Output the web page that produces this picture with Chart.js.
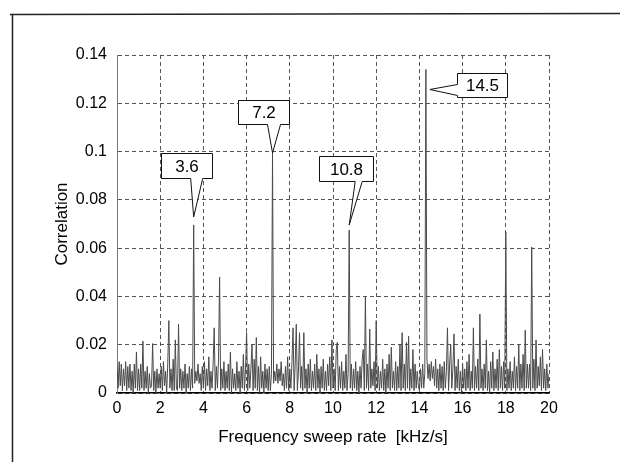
<!DOCTYPE html>
<html>
<head>
<meta charset="utf-8">
<script src="https://cdn.jsdelivr.net/npm/chart.js@4/dist/chart.umd.min.js"></script>
<style>
  html, body { margin: 0; padding: 0; background: #fff; }
  #wrap { width: 620px; height: 462px; position: relative; }
</style>
</head>
<body>
<div id="wrap"><canvas id="c" width="620" height="462"></canvas></div>
<script>
// Frequency sweep rate axis (kHz/s): samples start at 0, one every 0.05
const sweepStart = 0;
const sweepStep = 0.05;

// Correlation values, one per sample (0 .. 20 kHz/s)
const correlation = [
  // 0.00 - 0.95
  0.011,0.002,0.013,0.003,0.012,0.001,0.010,0.003,0.013,0.001,0.011,0.002,0.012,0.001,0.009,0.000,0.012,0.002,0.017,0.001,
  // 1.00 - 1.95
  0.010,0.001,0.012,0.002,0.0215,0.001,0.009,0.002,0.011,0.000,0.008,0.002,0.003,0.0205,0.001,0.009,0.000,0.010,0.002,0.008,
  // 2.00 - 2.95
  0.002,0.011,0.001,0.013,0.003,0.009,0.000,0.012,0.030,0.002,0.010,0.001,0.014,0.001,0.022,0.002,0.001,0.0285,0.002,0.010,
  // 3.00 - 3.95
  0.001,0.009,0.002,0.012,0.000,0.008,0.002,0.011,0.001,0.010,0.002,0.0696,0.004,0.009,0.005,0.012,0.004,0.008,0.001,0.011,
  // 4.00 - 4.95
  0.002,0.013,0.001,0.010,0.003,0.015,0.001,0.009,0.002,0.012,0.027,0.001,0.011,0.002,0.014,0.048,0.001,0.010,0.002,0.013,
  // 5.00 - 5.95
  0.001,0.009,0.002,0.012,0.001,0.017,0.000,0.010,0.002,0.008,0.001,0.013,0.002,0.009,0.000,0.011,0.002,0.016,0.001,0.010,
  // 6.00 - 6.95
  0.025,0.001,0.012,0.002,0.010,0.020,0.001,0.014,0.002,0.023,0.001,0.011,0.000,0.015,0.002,0.009,0.000,0.012,0.002,0.010,
  // 7.00 - 7.95
  0.001,0.011,0.001,0.008,0.0994,0.004,0.009,0.005,0.012,0.004,0.010,0.005,0.013,0.003,0.008,0.001,0.011,0.002,0.015,0.001,
  // 8.00 - 8.95
  0.010,0.002,0.013,0.027,0.001,0.012,0.0285,0.001,0.009,0.025,0.002,0.011,0.001,0.025,0.002,0.010,0.000,0.012,0.002,0.014,
  // 9.00 - 9.95
  0.001,0.009,0.002,0.012,0.001,0.016,0.002,0.010,0.000,0.011,0.002,0.014,0.001,0.009,0.001,0.012,0.003,0.015,0.001,0.022,
  // 10.00 - 10.95
  0.002,0.010,0.001,0.018,0.021,0.001,0.011,0.002,0.013,0.001,0.009,0.002,0.016,0.001,0.008,0.0675,0.002,0.012,0.001,0.010,
  // 11.00 - 11.95
  0.002,0.013,0.001,0.009,0.000,0.011,0.002,0.014,0.018,0.001,0.040,0.002,0.012,0.001,0.0265,0.002,0.010,0.003,0.013,0.001,
  // 12.00 - 12.95
  0.030,0.002,0.011,0.001,0.009,0.002,0.014,0.001,0.010,0.000,0.012,0.002,0.016,0.001,0.019,0.002,0.009,0.001,0.013,0.001,
  // 13.00 - 13.95
  0.011,0.002,0.020,0.001,0.025,0.002,0.012,0.001,0.021,0.002,0.0235,0.001,0.010,0.002,0.018,0.001,0.012,0.002,0.009,0.003,
  // 14.00 - 14.95
  0.001,0.010,0.002,0.012,0.002,0.008,0.134,0.014,0.006,0.012,0.005,0.013,0.006,0.011,0.003,0.014,0.002,0.010,0.001,0.012,
  // 15.00 - 15.95
  0.002,0.011,0.001,0.013,0.002,0.009,0.027,0.001,0.012,0.020,0.002,0.010,0.0245,0.001,0.011,0.002,0.014,0.001,0.009,0.000,
  // 16.00 - 16.95
  0.012,0.002,0.010,0.001,0.013,0.002,0.016,0.001,0.009,0.002,0.027,0.001,0.011,0.002,0.014,0.001,0.0327,0.002,0.010,0.001,
  // 17.00 - 17.95
  0.012,0.002,0.022,0.001,0.009,0.000,0.013,0.002,0.017,0.001,0.010,0.002,0.014,0.001,0.018,0.002,0.011,0.001,0.013,0.002,
  // 18.00 - 18.95
  0.0667,0.001,0.010,0.002,0.013,0.001,0.009,0.002,0.015,0.001,0.011,0.002,0.020,0.001,0.012,0.002,0.016,0.001,0.026,0.002,
  // 19.00 - 19.95
  0.012,0.002,0.012,0.001,0.0605,0.002,0.014,0.001,0.022,0.002,0.011,0.003,0.015,0.001,0.018,0.002,0.010,0.001,0.012,0.002,
  // 20.00
  0.008
];

// Labelled peaks: position on the sweep-rate axis, peak height, callout text
const peakRates  = [3.55, 7.2, 10.75, 14.3];
const peakValues = [0.0696, 0.0994, 0.0675, 0.134];
const peakLabels = ['3.6', '7.2', '10.8', '14.5'];

// Axis ticks
const xTickStep = 2, xMin = 0, xMax = 20;
const yTickStep = 0.02, yMin = 0, yMax = 0.14;

// ---- presentation (pixel offsets of callouts relative to the peak point) ----
const calloutLayout = [
  { side: 'bottom', tipDx: 0, tipDy: -8, boxDx: -33, boxDy: -72, w: 51, h: 25, b1: -3, b2: 9 },
  { side: 'bottom', tipDx: 0, tipDy: 0,  boxDx: -35, boxDy: -53, w: 51, h: 24, b1: -5, b2: 8 },
  { side: 'bottom', tipDx: 0, tipDy: -5, boxDx: -30, boxDy: -74, w: 54, h: 25, b1: 6,  b2: 13 },
  { side: 'left',   tipDx: 4, tipDy: 20, boxDx: 31,  boxDy: 4,   w: 50, h: 24, b1: 15, b2: 26 }
];

const points = correlation.map((v, i) => ({ x: sweepStart + i * sweepStep, y: v }));

const FONT = '"Liberation Sans", Arial, Helvetica, sans-serif';

const decorPlugin = {
  id: 'decor',
  afterDatasetsDraw(chart) {
    const ctx = chart.ctx;
    const xs = chart.scales.x, ys = chart.scales.y;
    ctx.save();
    peakRates.forEach((r, k) => {
      const L = calloutLayout[k];
      const px = xs.getPixelForValue(r), py = ys.getPixelForValue(peakValues[k]);
      const tx = px + L.tipDx, ty = py + L.tipDy;
      const bl = Math.round(px + L.boxDx) + 0.5, bt = Math.round(py + L.boxDy) + 0.5;
      const br = bl + L.w, bb = bt + L.h;
      ctx.beginPath();
      if (L.side === 'bottom') {
        ctx.moveTo(bl, bt); ctx.lineTo(br, bt); ctx.lineTo(br, bb);
        ctx.lineTo(px + L.b2, bb); ctx.lineTo(tx, ty); ctx.lineTo(px + L.b1, bb);
        ctx.lineTo(bl, bb); ctx.closePath();
      } else {
        ctx.moveTo(bl, bt); ctx.lineTo(br, bt); ctx.lineTo(br, bb); ctx.lineTo(bl, bb);
        ctx.lineTo(bl, py + L.b2); ctx.lineTo(tx, ty); ctx.lineTo(bl, py + L.b1);
        ctx.closePath();
      }
      ctx.fillStyle = '#fff';
      ctx.fill();
      ctx.lineWidth = 1;
      ctx.strokeStyle = '#111';
      ctx.stroke();
      ctx.fillStyle = '#000';
      ctx.font = '17px ' + FONT;
      ctx.textAlign = 'center';
      ctx.textBaseline = 'middle';
      ctx.fillText(peakLabels[k], (bl + br) / 2, (bt + bb) / 2 + 1);
    });
    // outer figure frame (top and left edges)
    ctx.strokeStyle = '#222';
    ctx.lineWidth = 1.5;
    ctx.beginPath();
    ctx.moveTo(10, 14.5); ctx.lineTo(620, 13.5);
    ctx.moveTo(12.5, 14); ctx.lineTo(12.5, 462);
    ctx.stroke();
    ctx.restore();
  }
};

new Chart(document.getElementById('c'), {
  type: 'line',
  data: {
    datasets: [{
      data: points,
      borderColor: '#4a4a4a',
      borderWidth: 1,
      pointRadius: 0,
      tension: 0,
      fill: false
    }]
  },
  options: {
    responsive: false,
    animation: false,
    devicePixelRatio: 1,
    layout: { padding: { top: 55, right: 71, left: 0, bottom: 0 } },
    plugins: { legend: { display: false }, tooltip: { enabled: false } },
    scales: {
      x: {
        type: 'linear', min: xMin, max: xMax,
        afterFit(s) { s.height = 69; },
        ticks: { stepSize: xTickStep, color: '#000', padding: 6, maxRotation: 0,
                 font: { family: FONT, size: 16 } },
        grid: { color: '#555', lineWidth: 1, drawTicks: false },
        border: { display: true, color: '#000', width: 1.5, dash: [4, 3] },
        title: { display: true, text: 'Frequency sweep rate  [kHz/s]', color: '#000',
                 font: { family: FONT, size: 17 }, padding: { top: 0, bottom: 14 } }
      },
      y: {
        type: 'linear', min: yMin, max: yMax,
        afterFit(s) { s.width = 117; },
        ticks: { stepSize: yTickStep, color: '#000', padding: 10,
                 font: { family: FONT, size: 16 },
                 callback: v => String(+v.toFixed(2)) },
        grid: { color: '#555', lineWidth: 1, drawTicks: false },
        border: { display: true, color: '#777', width: 1, dash: [4, 3] },
        title: { display: true, text: 'Correlation', color: '#000',
                 font: { family: FONT, size: 17 }, padding: { top: 52, bottom: 0 } }
      }
    }
  },
  plugins: [decorPlugin]
});
</script>
</body>
</html>
